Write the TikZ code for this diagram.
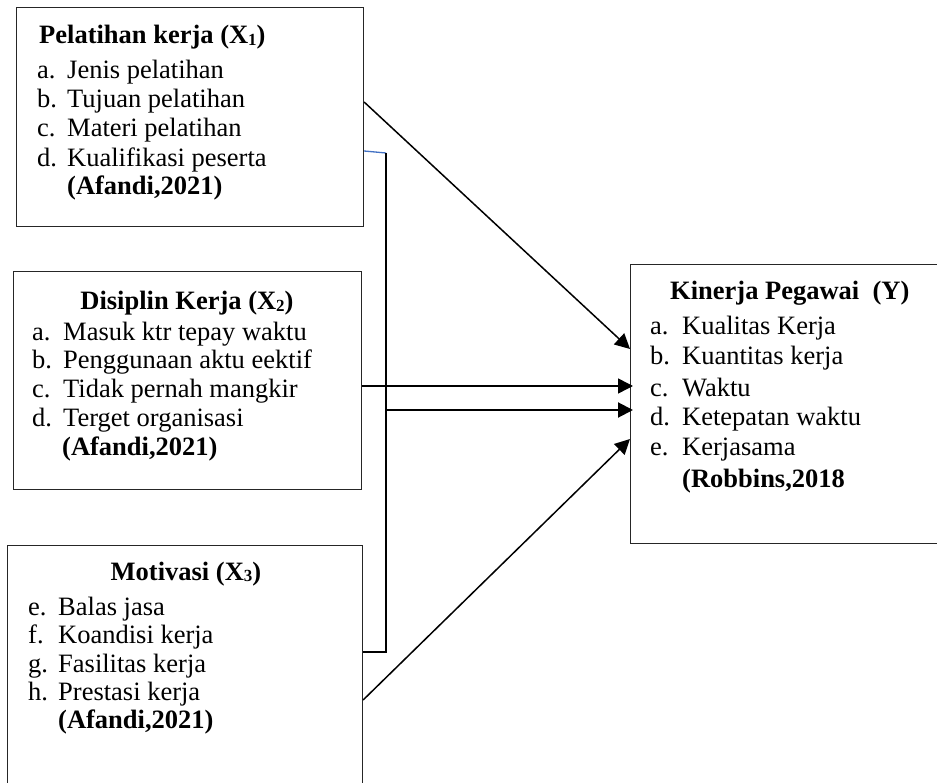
\documentclass[tikz,border=0pt]{standalone}
\usepackage{fontspec}
\setmainfont{Liberation Serif}
\usetikzlibrary{arrows.meta}
\newcommand{\mysub}[1]{\raisebox{-1.5pt}{\fontsize{17}{17}\selectfont #1}}
\begin{document}
\begin{tikzpicture}[x=1pt,y=-1pt,
  box/.style={draw=black!85,line width=1.1pt,rectangle,anchor=north west,inner sep=0pt},
  txt/.style={anchor=base west,inner sep=0pt,font=\fontsize{26.5}{29}\selectfont},
  ttlc/.style={anchor=base,inner sep=0pt,font=\fontsize{26.5}{29}\selectfont\bfseries},
  ttll/.style={anchor=base west,inner sep=0pt,font=\fontsize{26.5}{29}\selectfont\bfseries},
  arr/.style={line width=1.5pt,-{Triangle[length=15pt,width=15pt]}},
  ln/.style={line width=1.5pt}]
\useasboundingbox (0,0) rectangle (937,783);
\clip (0,0) rectangle (937,783);
% boxes
\node[box,minimum width=347pt,minimum height=219pt] (x1) at (16,7) {};
\node[box,minimum width=348pt,minimum height=218pt] (x2) at (13,271) {};
\node[box,minimum width=355pt,minimum height=260pt] (x3) at (7,545) {};
\node[box,minimum width=320pt,minimum height=279pt] (y) at (630,264) {};
% X1 text
\node[ttll] (t1) at (39,44) {Pelatihan kerja (X\mysub{1})};
\node[txt] (l1a) at (37,79) {a.}; \node[txt] (i1a) at (67,79) {Jenis pelatihan};
\node[txt] (l1b) at (37,108) {b.}; \node[txt] (i1b) at (67,108) {Tujuan pelatihan};
\node[txt] (l1c) at (37,137) {c.}; \node[txt] (i1c) at (67,137) {Materi pelatihan};
\node[txt] (l1d) at (37,167) {d.}; \node[txt] (i1d) at (67,167) {Kualifikasi peserta};
\node[ttll] (r1) at (67,195) {(Afandi,2021)};
% X2 text
\node[ttlc] (t2) at (187,310) {Disiplin Kerja (X\mysub{2})};
\node[txt] (l2a) at (32,341) {a.}; \node[txt] (i2a) at (63,341) {Masuk ktr tepay waktu};
\node[txt] (l2b) at (32,369) {b.}; \node[txt] (i2b) at (63,369) {Penggunaan aktu eektif};
\node[txt] (l2c) at (32,398) {c.}; \node[txt] (i2c) at (63,398) {Tidak pernah mangkir};
\node[txt] (l2d) at (32,427) {d.}; \node[txt] (i2d) at (63,427) {Terget organisasi};
\node[ttll] (r2) at (62,455) {(Afandi,2021)};
% X3 text
\node[ttlc] (t3) at (186,580) {Motivasi (X\mysub{3})};
\node[txt] (l3e) at (28,615) {e.}; \node[txt] (i3e) at (58,615) {Balas jasa};
\node[txt] (l3f) at (28,643) {f.}; \node[txt] (i3f) at (58,643) {Koandisi kerja};
\node[txt] (l3g) at (28,672) {g.}; \node[txt] (i3g) at (58,672) {Fasilitas kerja};
\node[txt] (l3h) at (28,700) {h.}; \node[txt] (i3h) at (58,700) {Prestasi kerja};
\node[ttll] (r3) at (58,728) {(Afandi,2021)};
% Y text
\node[ttll] (ty) at (670,300) {Kinerja Pegawai \ (Y)};
\node[txt] (lya) at (650,335) {a.}; \node[txt] (iya) at (682,335) {Kualitas Kerja};
\node[txt] (lyb) at (650,365) {b.}; \node[txt] (iyb) at (682,365) {Kuantitas kerja};
\node[txt] (lyc) at (650,396) {c.}; \node[txt] (iyc) at (682,396) {Waktu};
\node[txt] (lyd) at (650,425) {d.}; \node[txt] (iyd) at (682,425) {Ketepatan waktu};
\node[txt] (lye) at (650,455) {e.}; \node[txt] (iye) at (682,455) {Kerjasama};
\node[ttll] (ry) at (682,487) {(Robbins,2018};
% junction coordinates
\coordinate (j1) at (386,153);
\coordinate (j2) at (386,652);
\coordinate (j3) at (386,410);
% connectors
\draw[arr] ([yshift=-95pt]x1.north east) -- ([yshift=-85pt]y.north west);
\draw[line width=1.3pt,color={rgb,255:red,68;green,114;blue,196}] ([yshift=-144pt]x1.north east) -- (j1);
\draw[ln] (j1) -- (j2) -- ([yshift=-107pt]x3.north east);
\draw[arr] ([yshift=-115pt]x2.north east) -- ([yshift=-122pt,xshift=3pt]y.north west);
\draw[arr,line width=2pt] (j3) -- ([yshift=-146pt,xshift=3pt]y.north west);
\draw[arr] ([yshift=-155pt]x3.north east) -- ([yshift=-175pt]y.north west);
\end{tikzpicture}
\end{document}
